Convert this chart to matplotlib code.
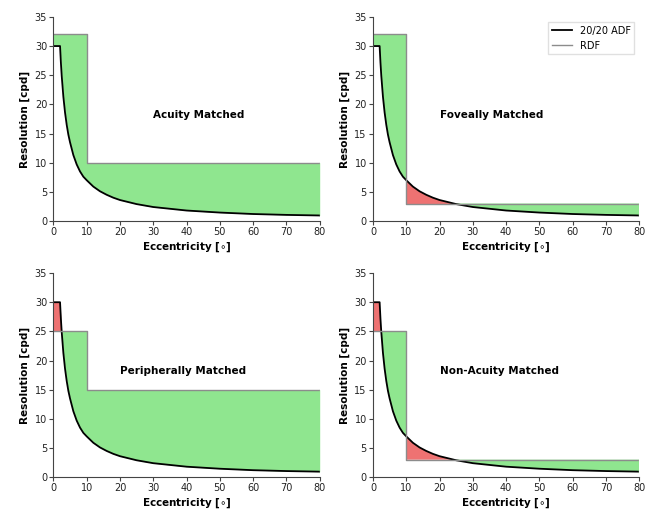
import matplotlib
matplotlib.use("Agg")
import matplotlib.pyplot as plt
import numpy as np

# 20/20 acuity distribution function
ecc = [0, 1, 2, 2.25, 2.5, 3, 3.5, 4, 4.5, 5, 6, 7, 8, 9, 10, 12, 14, 16, 18, 20,
       25, 30, 35, 40, 50, 60, 70, 80]
adf = [30, 30, 30, 27.2, 24.9, 21.3, 18.6, 16.5, 14.8, 13.5, 11.3, 9.7, 8.5, 7.6, 7.0,
       5.9, 5.1, 4.5, 4.0, 3.6, 2.9, 2.4, 2.1, 1.8, 1.45, 1.2, 1.05, 0.95]

# rendered distribution functions: (fovea level, periphery level), split at 10 deg
titles = ["Acuity Matched", "Foveally Matched", "Peripherally Matched", "Non-Acuity Matched"]
fovea_res = [32, 32, 25, 25]
periph_res = [10, 3, 15, 3]
split_ecc = 10

GREEN = "#8fe68f"
RED = "#ee7272"

fig, axes = plt.subplots(2, 2, figsize=(6.51, 5.12), dpi=100)
fig.subplots_adjust(left=0.082, right=0.982, top=0.967, bottom=0.068,
                    wspace=0.2, hspace=0.255)

e = np.array(ecc, dtype=float)
a = np.array(adf, dtype=float)
k = np.searchsorted(e, split_ecc)
# duplicate the split point so the step is vertical
ex = np.concatenate([e[:k + 1], e[k:]])
ax_ = np.concatenate([a[:k + 1], a[k:]])

for i, ax in enumerate(axes.flat):
    rdf = np.concatenate([np.full(k + 1, fovea_res[i]), np.full(len(e) - k, periph_res[i])])
    ax.fill_between(ex, ax_, rdf, where=rdf >= ax_, interpolate=True,
                    color=GREEN, linewidth=0)
    ax.fill_between(ex, ax_, rdf, where=rdf <= ax_, interpolate=True,
                    color=RED, linewidth=0)
    ax.plot(ex, ax_, color="black", linewidth=1.3, label="20/20 ADF")
    ax.plot(ex, rdf, color="#8c8c8c", linewidth=1.0, label="RDF")
    ax.plot([80, 80], [a[-1], periph_res[i]], color=GREEN, linewidth=1.0)

    ax.set_xlim(0, 80)
    ax.set_ylim(0, 35)
    ax.set_xticks(range(0, 81, 10))
    ax.set_yticks(range(0, 36, 5))
    ax.tick_params(labelsize=7, length=3, width=0.8, color="#444444",
                   labelcolor="#222222", pad=1.5)
    for s in ["top", "right"]:
        ax.spines[s].set_visible(False)
    for s in ["left", "bottom"]:
        ax.spines[s].set_color("#444444")
        ax.spines[s].set_linewidth(0.8)
    ax.set_xlabel("Eccentricity [$\\circ$]", fontsize=7.5, fontweight="bold", labelpad=2)
    ax.set_ylabel("Resolution [cpd]", fontsize=7.5, fontweight="bold", labelpad=3)
    ax.text(0.375 if i == 0 else 0.25, 0.52, titles[i], transform=ax.transAxes,
            fontsize=7.5, fontweight="bold", va="center")

axes[0, 1].legend(loc="upper right", fontsize=7, frameon=True, framealpha=0.9,
                  edgecolor="#dddddd", fancybox=False, handlelength=2)

fig.savefig("out.png", dpi=100)
